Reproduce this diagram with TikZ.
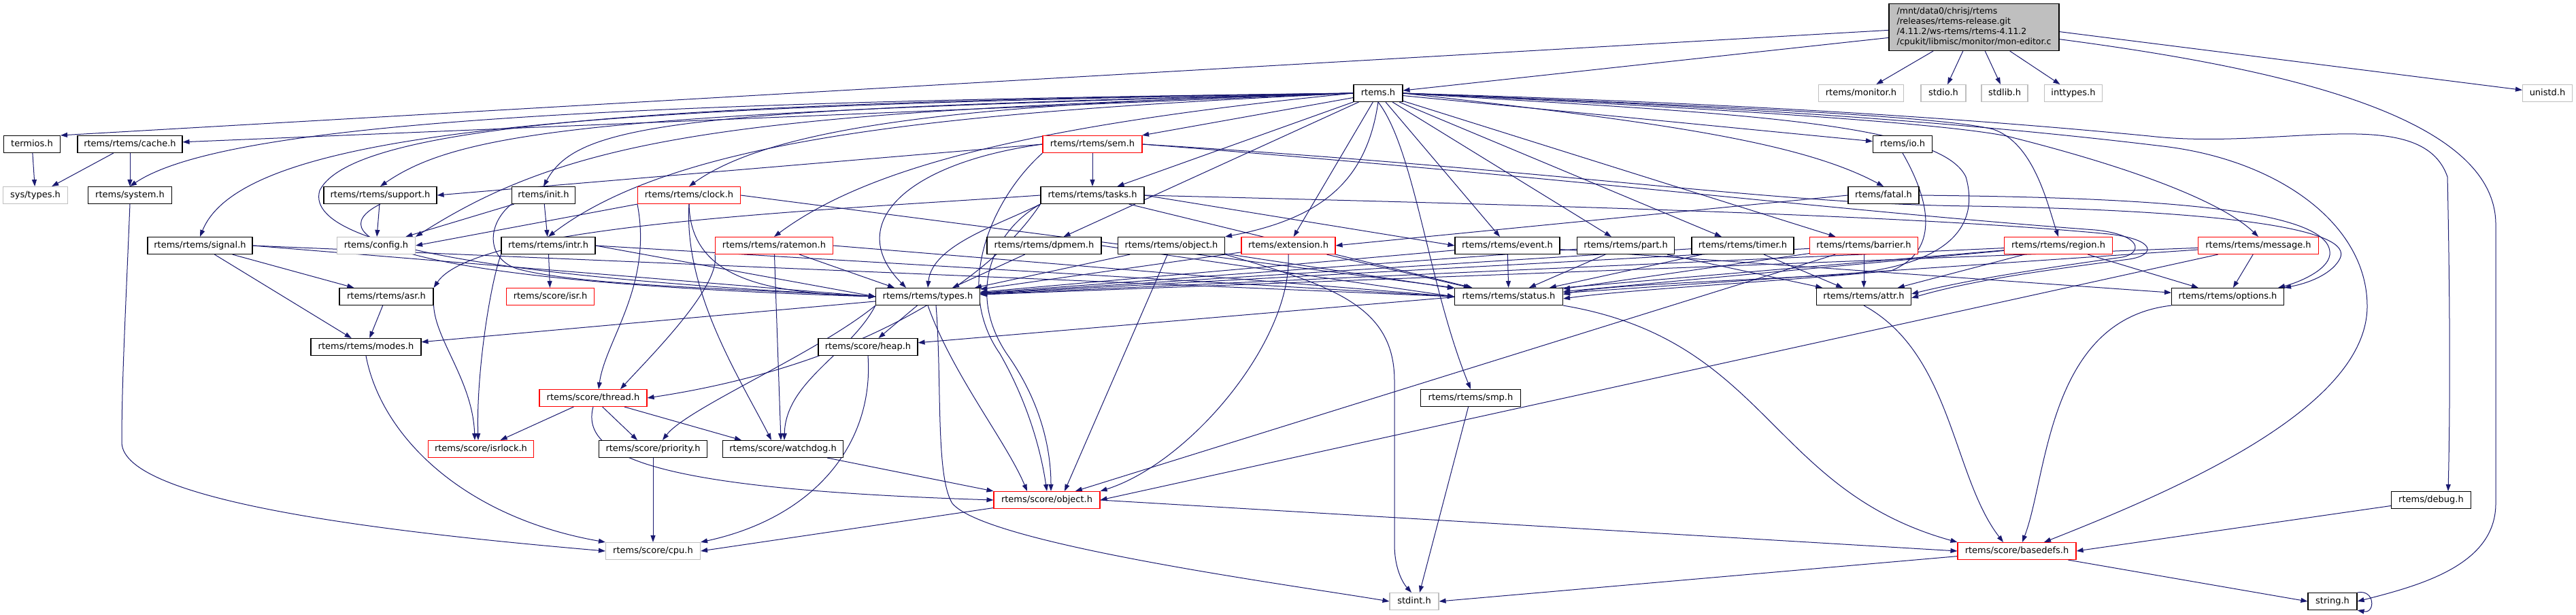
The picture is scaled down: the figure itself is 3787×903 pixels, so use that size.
\documentclass[tikz,border=0pt]{standalone}
\usepackage{fontspec}
\newfontfamily\dvs{DejaVu Sans}
\usetikzlibrary{arrows.meta}
\definecolor{mblue}{HTML}{191970}
\definecolor{grayb}{HTML}{BFBFBF}
\pgfdeclarelayer{fg}
\pgfsetlayers{main,fg}
\tikzset{
 nd/.style={draw=black, fill=white, line width=1.1pt, minimum height=25pt, inner xsep=2pt, inner ysep=0pt,
   font=\dvs\fontsize{13}{15}\selectfont, text height=9.5pt, text depth=2.7pt},
 gn/.style={nd, draw=grayb},
 rn/.style={nd, draw=red},
 ed/.style={draw=mblue, line width=1pt, -{Triangle[length=10pt,width=7pt]}},
}
\begin{document}
\begin{tikzpicture}[x=1pt,y=-1pt]
\useasboundingbox (0,0) rectangle (3787,903);
\fill[white] (0,0) rectangle (3787,903);
\begin{pgfonlayer}{fg}
\node[draw=black, fill=grayb, line width=1.1pt, minimum width=250pt, minimum height=69pt, align=left, inner sep=0pt,
  font=\dvs\fontsize{12.5}{15}\selectfont] (main) at (2902,40)
  {/mnt/data0/chrisj/rtems\\/releases/rtems-release.git\\/4.11.2/ws-rtems/rtems-4.11.2\\/cpukit/libmisc/monitor/mon-editor.c};
\node[nd,minimum width=72pt] (rtemsh) at (2026,137) {rtems.h};
\node[gn,minimum width=125pt] (monitor) at (2736,137) {rtems/monitor.h};
\node[gn,minimum width=66pt] (stdio) at (2857,137) {stdio.h};
\node[gn,minimum width=68pt] (stdlib) at (2947,137) {stdlib.h};
\node[gn,minimum width=85pt] (inttypes) at (3048,137) {inttypes.h};
\node[gn,minimum width=73pt] (unistd) at (3745,137) {unistd.h};
\node[nd,minimum width=83pt] (termios) at (47,212) {termios.h};
\node[nd,minimum width=154pt] (cache) at (191,212) {rtems/rtems/cache.h};
\node[rn,minimum width=146pt] (sem) at (1606,212) {rtems/rtems/sem.h};
\node[nd,minimum width=87pt] (io) at (2797,212) {rtems/io.h};
\node[gn,minimum width=95pt] (systypes) at (52,287) {sys/types.h};
\node[nd,minimum width=123pt] (system) at (191,287) {rtems/system.h};
\node[nd,minimum width=166pt] (support) at (559,287) {rtems/rtems/support.h};
\node[nd,minimum width=93pt] (init) at (799,287) {rtems/init.h};
\node[rn,minimum width=151pt] (clock) at (1013,287) {rtems/rtems/clock.h};
\node[nd,minimum width=152pt] (tasks) at (1606,287) {rtems/rtems/tasks.h};
\node[nd,minimum width=104pt] (fatal) at (2769,287) {rtems/fatal.h};
\node[nd,minimum width=154pt] (signal) at (294,361) {rtems/rtems/signal.h};
\node[gn,minimum width=115pt] (config) at (553,361) {rtems/config.h};
\node[nd,minimum width=138pt] (intr) at (806,361) {rtems/rtems/intr.h};
\node[rn,minimum width=173pt] (ratemon) at (1138,361) {rtems/rtems/ratemon.h};
\node[nd,minimum width=168pt] (dpmem) at (1535,361) {rtems/rtems/dpmem.h};
\node[nd,minimum width=157pt] (robject) at (1722,361) {rtems/rtems/object.h};
\node[rn,minimum width=138pt] (extension) at (1894,361) {rtems/extension.h};
\node[nd,minimum width=154pt] (event) at (2216,361) {rtems/rtems/event.h};
\node[nd,minimum width=143pt] (part) at (2390,361) {rtems/rtems/part.h};
\node[nd,minimum width=150pt] (timer) at (2562,361) {rtems/rtems/timer.h};
\node[rn,minimum width=159pt] (barrier) at (2740,361) {rtems/rtems/barrier.h};
\node[rn,minimum width=159pt] (region) at (3026,361) {rtems/rtems/region.h};
\node[rn,minimum width=177pt] (message) at (3320,361) {rtems/rtems/message.h};
\node[nd,minimum width=138pt] (asr) at (568,436) {rtems/rtems/asr.h};
\node[rn,minimum width=129pt] (isr) at (809,436) {rtems/score/isr.h};
\node[nd,minimum width=153pt] (types) at (1364,436) {rtems/rtems/types.h};
\node[nd,minimum width=159pt] (status) at (2218,436) {rtems/rtems/status.h};
\node[nd,minimum width=139pt] (attr) at (2740,436) {rtems/rtems/attr.h};
\node[nd,minimum width=165pt] (options) at (3275,436) {rtems/rtems/options.h};
\node[nd,minimum width=162pt] (modes) at (538,510) {rtems/rtems/modes.h};
\node[nd,minimum width=146pt] (heap) at (1276,510) {rtems/score/heap.h};
\node[rn,minimum width=158pt] (thread) at (872,585) {rtems/score/thread.h};
\node[nd,minimum width=147pt] (smp) at (2162,585) {rtems/rtems/smp.h};
\node[rn,minimum width=155pt] (isrlock) at (707,660) {rtems/score/isrlock.h};
\node[nd,minimum width=159pt] (priority) at (960,660) {rtems/score/priority.h};
\node[nd,minimum width=177pt] (watchdog) at (1151,660) {rtems/score/watchdog.h};
\node[rn,minimum width=156pt] (sobject) at (1539,735) {rtems/score/object.h};
\node[nd,minimum width=117pt] (debug) at (3574,735) {rtems/debug.h};
\node[gn,minimum width=139pt] (cpu) at (960,810) {rtems/score/cpu.h};
\node[rn,minimum width=174pt] (basedefs) at (2965,810) {rtems/score/basedefs.h};
\node[gn,minimum width=72pt] (stdint) at (2079,884) {stdint.h};
\node[nd,minimum width=72pt] (string) at (3429,884) {string.h};
\end{pgfonlayer}
% main
\draw[ed] (main.187) -- (rtemsh);
\draw[ed] (main.182) -- (termios.north east);
\draw[ed] (main) -- (monitor);
\draw[ed] (main) -- (stdio);
\draw[ed] (main) -- (stdlib);
\draw[ed] (main) -- (inttypes);
\draw[ed] (main.-3) -- (unistd);
\draw[ed] (main.-8) .. controls (3350,100) and (3669,170) .. (3669,330) -- (3669,740) .. controls (3669,830) and (3560,860) .. (string.east);
% left group
\draw[ed] (termios) -- (systypes);
\draw[ed] (cache) -- (systypes);
\draw[ed] (cache) -- (system);
\draw[ed] (system.south) .. controls (185,450) and (179,560) .. (179,650) .. controls (179,740) and (600,785) .. (cpu.west);
% rtems.h
\draw[ed] (rtemsh.west) -- (cache);
\draw[ed] (rtemsh.west) .. controls (900,150) and (330,180) .. (system.north);
\draw[ed] (rtemsh.west) .. controls (900,155) and (360,185) .. (signal.north);
\draw[ed] (rtemsh.west) .. controls (900,165) and (680,190) .. (support.north);
\draw[ed] (rtemsh.west) .. controls (1100,165) and (850,195) .. (config.north east);
\draw[ed] (rtemsh.west) .. controls (1000,160) and (850,180) .. (init.north);
\draw[ed] (rtemsh.west) .. controls (1400,165) and (1000,200) .. (intr.north);
\draw[ed] (rtemsh.west) .. controls (1500,150) and (1150,175) .. (clock.north);
\draw[ed] (rtemsh) -- (sem);
\draw[ed] (rtemsh) -- (tasks);
\draw[ed] (rtemsh.west) .. controls (1500,185) and (1270,250) .. (ratemon.north);
\draw[ed] (rtemsh) -- (dpmem);
\draw[ed] (rtemsh.south) .. controls (2010,260) and (1950,320) .. (robject.north east);
\draw[ed] (rtemsh) -- (extension);
\draw[ed] (rtemsh) -- (event);
\draw[ed] (rtemsh) -- (part);
\draw[ed] (rtemsh) -- (timer);
\draw[ed] (rtemsh) -- (barrier);
\draw[ed] (rtemsh) -- (io);
\draw[ed] (rtemsh.east) .. controls (2450,180) and (2650,210) .. (fatal.north);
\draw[ed] (rtemsh.east) .. controls (2500,155) and (2850,170) .. (2930,190) .. controls (2990,210) and (3010,300) .. (region.north);
\draw[ed] (rtemsh.east) .. controls (2500,158) and (2850,180) .. (2950,200) .. controls (3150,250) and (3270,300) .. (message.north);
\draw[ed] (rtemsh.south) .. controls (2080,220) and (2100,420) .. (smp.north);
\draw[ed] (rtemsh.east) .. controls (2500,165) and (2850,175) .. (2890,260) .. controls (2910,330) and (2870,392) .. (2700,404) .. controls (2500,415) and (2350,420) .. ([yshift=3pt]status.east);
\draw[ed] (rtemsh.west) .. controls (1000,150) and (520,180) .. (470,280) .. controls (440,380) and (900,415) .. (types.west);
\draw[ed] (rtemsh.east) .. controls (2500,150) and (2850,170) .. (3160,200) .. controls (3350,222) and (3560,150) .. (3598,260) .. controls (3602,450) and (3602,600) .. ([xshift=25pt]debug.north);
\draw[ed] (rtemsh.east) .. controls (2500,155) and (2850,175) .. (3180,215) .. controls (3350,235) and (3480,330) .. (3480,450) .. controls (3480,600) and (3200,720) .. ([xshift=40pt]basedefs.north);
% sem
\draw[ed] (sem) -- (tasks);
\draw[ed] (sem.west) -- (support.east);
\draw[ed] (sem.west) .. controls (1330,240) and (1240,330) .. ([xshift=-32pt]types.north);
\draw[ed] (sem.south west) .. controls (1460,290) and (1400,420) .. (1470,520) .. controls (1510,590) and (1530,660) .. (sobject.north);
\draw[ed] (sem.east) .. controls (2300,250) and (2600,300) .. (2900,303) .. controls (3300,310) and (3460,340) .. (3440,380) .. controls (3430,400) and (3400,415) .. (options.north east);
\draw[ed] (sem.east) .. controls (2300,260) and (2700,310) .. (3080,338) .. controls (3150,345) and (3150,372) .. (3120,378) .. controls (3000,395) and (2900,410) .. ([yshift=4pt]attr.east);
% fatal
\draw[ed] (fatal.west) -- (extension.east);
\draw[ed] (fatal.east) .. controls (3100,290) and (3420,300) .. (3425,370) .. controls (3428,395) and (3380,415) .. (options.10);
% tasks
\draw[ed] (tasks.south west) .. controls (1470,330) and (1370,360) .. (types.north);
\draw[ed] (tasks.south west) .. controls (1460,340) and (1420,430) .. (1480,520) .. controls (1530,590) and (1545,660) .. ([xshift=6pt]sobject.north);
\draw[ed] (tasks.west) .. controls (1200,310) and (700,330) .. (asr.north east);
\draw[ed] (tasks.south west) .. controls (1450,420) and (1250,540) .. (thread.east);
\draw[ed] (tasks) -- (status);
\draw[ed] (tasks.east) .. controls (2200,300) and (2800,315) .. (3100,344) .. controls (3170,352) and (3170,375) .. (3130,381) .. controls (3000,398) and (2900,412) .. ([yshift=-2pt]attr.east);
\draw[ed] (tasks.east) -- (event.west);
% clock
\draw[ed] (clock.south west) -- (config.east);
\draw[ed] (clock.south) .. controls (1015,420) and (1150,430) .. (types.west);
\draw[ed] (clock.east) -- (status.north west);
\draw[ed] (clock.south) .. controls (1005,430) and (1090,560) .. ([xshift=-17pt]watchdog.north);
\draw[ed] (clock.south west) .. controls (960,420) and (890,500) .. ([xshift=8pt]thread.north);
% support, init
\draw[ed] (support) -- (config);
\draw[ed] (support.south) .. controls (460,350) and (600,415) .. (types.west);
\draw[ed] (init) -- (config);
\draw[ed] (init) -- (intr);
\draw[ed] (init.south west) .. controls (715,330) and (715,380) .. (760,395) .. controls (850,420) and (1100,425) .. (types.west);
% signal, intr, asr
\draw[ed] (signal) -- (asr);
\draw[ed] (signal) -- (modes);
\draw[ed] (signal.east) -- (types.west);
\draw[ed] (signal.east) -- (status.west);
\draw[ed] (intr) -- (isr);
\draw[ed] (intr.east) -- (types.west);
\draw[ed] (intr.east) -- (status.west);
\draw[ed] (intr.south west) .. controls (720,420) and (700,550) .. ([xshift=-4pt]isrlock.north);
\draw[ed] (asr) -- (modes);
\draw[ed] (asr.south east) .. controls (640,500) and (695,560) .. ([xshift=-9pt]isrlock.north);
% ratemon, dpmem, robject, extension
\draw[ed] (ratemon) -- ([xshift=-49pt]types.north);
\draw[ed] (ratemon.east) -- (status.west);
\draw[ed] (ratemon) -- ([xshift=-3pt]watchdog.north);
\draw[ed] (ratemon.south west) .. controls (1060,420) and (960,520) .. ([xshift=40pt]thread.north);
\draw[ed] (dpmem) -- ([xshift=36pt]types.north);
\draw[ed] (dpmem.east) -- (status.west);
\draw[ed] (robject) -- ([xshift=69pt]types.north);
\draw[ed] (robject) -- (status);
\draw[ed] (robject) -- ([xshift=26pt]sobject.north);
\draw[ed] (robject.south east) .. controls (1960,420) and (2050,450) .. (2050,560) -- (2050,800) .. controls (2050,840) and (2065,860) .. ([xshift=-4pt]stdint.north);
\draw[ed] (extension) -- (types);
\draw[ed] (extension) -- (status);
\draw[ed] (extension.south) .. controls (1900,500) and (1750,680) .. (sobject.north east);
% row E right
\draw[ed] (event) -- (status);
\draw[ed] (event) -- (types);
\draw[ed] (event) -- (options);
\draw[ed] (part) -- (status);
\draw[ed] (part) -- (attr);
\draw[ed] (part) -- (types);
\draw[ed] (timer) -- (status);
\draw[ed] (timer) -- (attr);
\draw[ed] (timer) -- (types);
\draw[ed] (barrier) -- (attr);
\draw[ed] (barrier) -- (status);
\draw[ed] (barrier) -- (types);
\draw[ed] (barrier) -- (sobject);
\draw[ed] (region) -- (attr);
\draw[ed] (region) -- (options);
\draw[ed] (region) -- (status);
\draw[ed] (region) -- (types);
\draw[ed] (region) -- (heap);
\draw[ed] (message) -- (options);
\draw[ed] (message) -- (status);
\draw[ed] (message) -- (types);
\draw[ed] (message) -- (sobject.east);
\draw[ed] (io.south) .. controls (2840,300) and (2850,370) .. (2780,398) .. controls (2600,415) and (2400,425) .. ([yshift=-3pt]status.east);
% types and below
\draw[ed] (types) -- (modes);
\draw[ed] (types) -- (heap);
\draw[ed] (types.south west) .. controls (1250,520) and (1155,560) .. ([xshift=2pt]watchdog.north);
\draw[ed] (types.south west) .. controls (1200,520) and (1010,600) .. ([xshift=14pt]priority.north);
\draw[ed] (types.south) .. controls (1400,550) and (1480,650) .. ([xshift=-29pt]sobject.north);
\draw[ed] ([xshift=12pt]types.south) .. controls (1385,560) and (1375,700) .. (1400,740) .. controls (1450,800) and (1900,860) .. (stdint.west);
\draw[ed] (modes.south) .. controls (560,640) and (680,760) .. (cpu.north west);
\draw[ed] (heap.south) .. controls (1285,650) and (1200,760) .. (cpu.north east);
\draw[ed] (priority) -- (cpu);
\draw[ed] (thread) -- (isrlock);
\draw[ed] (thread) -- ([xshift=-23pt]priority.north);
\draw[ed] (thread) -- ([xshift=-61pt]watchdog.north);
\draw[ed] (thread.south) .. controls (850,680) and (1000,720) .. (sobject.west);
\draw[ed] (watchdog) -- (sobject.north west);
\draw[ed] (sobject) -- (cpu.east);
\draw[ed] (sobject.east) -- (basedefs.west);
\draw[ed] (smp) -- ([xshift=8pt]stdint.north);
\draw[ed] (status.south east) .. controls (2600,500) and (2600,720) .. (basedefs.north west);
\draw[ed] (attr.south) .. controls (2870,520) and (2870,700) .. ([xshift=-20pt]basedefs.north);
\draw[ed] (options.south west) .. controls (3010,470) and (3010,700) .. ([xshift=8pt]basedefs.north);
\draw[ed] (debug) -- (basedefs.east);
\draw[ed] (basedefs) -- (stdint.east);
\draw[ed] (basedefs) -- (string.west);
\draw[ed] (string.north east) .. controls (3492,866) and (3492,902) .. (string.south east);
\end{tikzpicture}
\end{document}
